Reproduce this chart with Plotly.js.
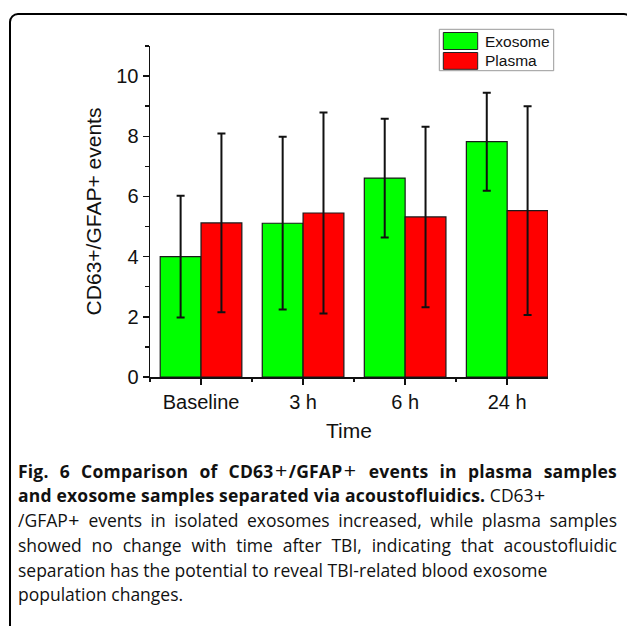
<!DOCTYPE html>
<html>
<head>
<meta charset="utf-8">
<script src="https://cdn.plot.ly/plotly-3.0.1.min.js"></script>
<style>
  html, body { margin: 0; padding: 0; width: 627px; height: 626px; overflow: hidden; background: #fff; }
  #wrap { position: relative; width: 627px; height: 626px; overflow: hidden; }
  #chart { position: absolute; left: 0; top: 0; width: 627px; height: 626px; }
  #frame { position: absolute; left: 8.5px; top: 12.5px; width: 624px; height: 700px;
           border: 2.5px solid #000; border-radius: 9px; box-sizing: border-box; pointer-events: none; }
  #caption { position: absolute; left: 18px; top: 458.5px; width: 599px; font-family: "Open Sans", sans-serif;
             font-size: 17.5px; line-height: 24.8px; color: #111; }
  #caption .ln { white-space: nowrap; height: 24.8px; }
  #caption .just { text-align: justify; text-align-last: justify; white-space: normal; }
  #caption b { font-weight: 700; font-size: 17.5px; letter-spacing: 0.2px; }
  #caption .pl { font-family: "Liberation Sans", Arial, sans-serif; font-weight: 400; font-size: 19px; letter-spacing: 0; padding: 0 0.5px; }
  #caption b .pl { font-size: 21px; padding: 0 1.5px; }
</style>
</head>
<body>
<div id="wrap">
  <div id="chart"></div>
  <div id="frame"></div>
  <div id="caption"></div>
</div>
<script>
// ---- data ----
const categories = ['Baseline', '3 h', '6 h', '24 h'];
const exosome = [4.00, 5.11, 6.61, 7.82];
const exosomeErr = [2.02, 2.87, 1.97, 1.63];
const plasma = [5.12, 5.45, 5.32, 5.53];
const plasmaErr = [2.97, 3.34, 3.00, 3.47];
const seriesNames = ['Exosome', 'Plasma'];
const yTitle = 'CD63+/GFAP+ events';
const xTitle = 'Time';
// caption lines: [bold part, regular part, justified?]
const captionLines = [
  ['Fig. 6 Comparison of CD63+/GFAP+ events in plasma samples', '', true],
  ['and exosome samples separated via acoustofluidics.', ' CD63+', false],
  ['', '/GFAP+ events in isolated exosomes increased, while plasma samples', true],
  ['', 'showed no change with time after TBI, indicating that acoustofluidic', true],
  ['', 'separation has the potential to reveal TBI-related blood exosome', false],
  ['', 'population changes.', false]
];

// ---- layout geometry (pixels) ----
const W = 627, H = 626;
const L = 150, R = 79, T = 46, B = 249;
const pw = W - L - R, ph = H - T - B;
const px = x => (x - L) / pw;
const py = y => (H - B - y) / ph;

const xIdx = categories.map((c, i) => i);
const font = 'Liberation Sans, Arial, sans-serif';
const colors = ['#00FF00', '#FF0000'];

function barTrace(name, y, err, color) {
  return {
    type: 'bar', name: name, x: xIdx, y: y,
    marker: { color: color, line: { color: '#1a1a1a', width: 1.2 } },
    error_y: { type: 'data', array: err, visible: true, color: '#111', thickness: 2, width: 4 },
    showlegend: false
  };
}

const data = [
  barTrace(seriesNames[0], exosome, exosomeErr, colors[0]),
  barTrace(seriesNames[1], plasma, plasmaErr, colors[1])
];

// manual legend (large swatches like the reference)
const shapes = [
  { type: 'rect', xref: 'paper', yref: 'paper', x0: px(439.3), x1: px(553.7), y0: py(70.7), y1: py(29.3),
    line: { color: '#999', width: 1 }, fillcolor: '#fff' }
];
const annotations = [];
const swY = [[32.5, 49.5], [52.5, 69.3]];
const txtY = [41, 60.5];
seriesNames.forEach((n, i) => {
  shapes.push({ type: 'rect', xref: 'paper', yref: 'paper', x0: px(443.3), x1: px(477.7),
    y0: py(swY[i][1]), y1: py(swY[i][0]), line: { color: '#222', width: 1 }, fillcolor: colors[i] });
  annotations.push({ xref: 'paper', yref: 'paper', x: px(483), y: py(txtY[i]), xanchor: 'left', yanchor: 'middle',
    text: n, showarrow: false, font: { family: font, size: 15.5, color: '#111' } });
});

const layout = {
  width: W, height: H,
  margin: { l: L, r: R, t: T, b: B },
  paper_bgcolor: '#fff', plot_bgcolor: '#fff',
  barmode: 'group', bargap: 0.2, bargroupgap: 0,
  showlegend: false,
  font: { family: font, color: '#111' },
  xaxis: {
    range: [-0.5, 3.4], tickmode: 'array', tickvals: xIdx, ticktext: categories,
    showgrid: false, zeroline: false, showline: true, linecolor: '#111', linewidth: 1.5,
    ticks: 'outside', ticklen: 6, tickwidth: 1.5, tickcolor: '#111',
    minor: { tick0: 0.5, dtick: 1, ticks: 'outside', ticklen: 3.5, tickwidth: 1.5, tickcolor: '#111' },
    tickfont: { family: font, size: 20, color: '#111' },
    title: { text: xTitle, font: { family: font, size: 21, color: '#111' }, standoff: 12 },
    fixedrange: true
  },
  yaxis: {
    range: [0, 11], tickmode: 'linear', tick0: 0, dtick: 2,
    showgrid: false, zeroline: false, showline: true, linecolor: '#111', linewidth: 1.5,
    ticks: 'outside', ticklen: 6, tickwidth: 1.5, tickcolor: '#111',
    minor: { dtick: 1, ticks: 'outside', ticklen: 3.5, tickwidth: 1.5, tickcolor: '#111' },
    tickfont: { family: font, size: 20, color: '#111' },
    title: { text: yTitle, font: { family: font, size: 21, color: '#111' }, standoff: 9 },
    fixedrange: true
  },
  shapes: shapes,
  annotations: annotations
};

Plotly.newPlot('chart', data, layout, { displayModeBar: false, staticPlot: true });

// caption text (thin wide plus signs as in the reference)
const esc = s => s.replace(/&/g, '&amp;').replace(/</g, '&lt;');
const plus = s => esc(s).replace(/\+/g, '<span class="pl">+</span>');
const cap = document.getElementById('caption');
cap.innerHTML = captionLines.map(([b, r, j]) =>
  '<div class="ln' + (j ? ' just' : '') + '">' + (b ? '<b>' + plus(b) + '</b>' : '') + plus(r) + '</div>'
).join('');
</script>
</body>
</html>
